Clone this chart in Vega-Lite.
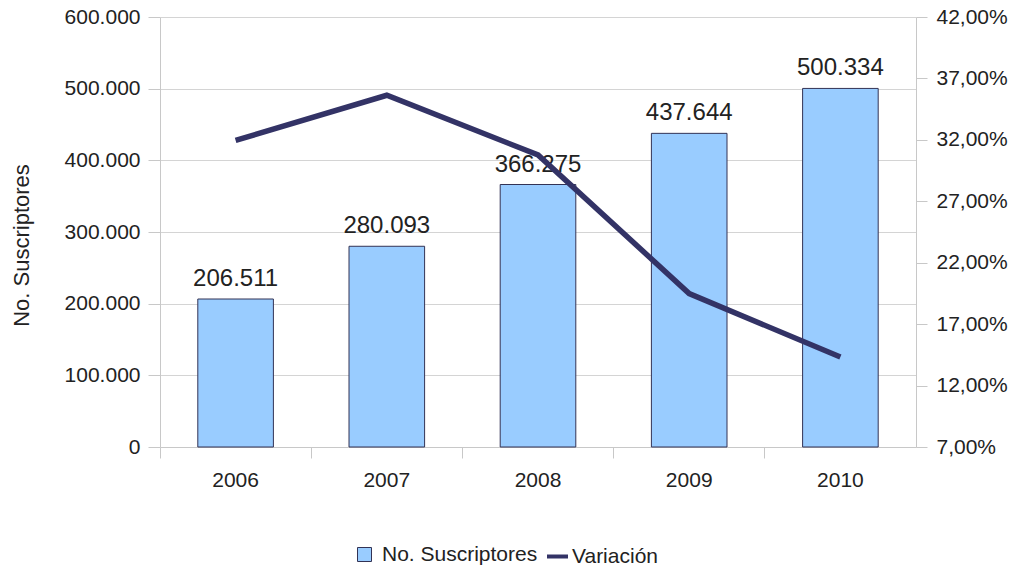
{
  "$schema": "https://vega.github.io/schema/vega-lite/v6.json",
  "autosize": "none",
  "width": 756,
  "height": 430,
  "padding": {"left": 160, "top": 17, "right": 96, "bottom": 125},
  "background": "white",
  "config": {
    "view": {"stroke": null},
    "font": "Liberation Sans",
    "locale": {"number": {"decimal": ",", "thousands": ".", "grouping": [3], "currency": ["", " €"]}},
    "axis": {"labelFont": "Liberation Sans", "titleFont": "Liberation Sans", "labelColor": "#222222", "titleColor": "#222222", "domainColor": "#c8c8c8", "tickColor": "#c8c8c8", "gridColor": "#d4d4d4", "labelOverlap": false},
    "legend": {"labelFont": "Liberation Sans", "labelColor": "#222222"}
  },
  "data": {
    "values": [
      {"year": "2006", "subs": 206511, "var": 0.3195},
      {"year": "2007", "subs": 280093, "var": 0.3563},
      {"year": "2008", "subs": 366275, "var": 0.3077},
      {"year": "2009", "subs": 437644, "var": 0.1949},
      {"year": "2010", "subs": 500334, "var": 0.1432}
    ]
  },
  "encoding": {
    "x": {
      "field": "year", "type": "ordinal",
      "scale": {"paddingInner": 0, "paddingOuter": 0},
      "axis": {"title": null, "labelAngle": 0, "labelFontSize": 21, "labelPadding": 11, "tickSize": 11, "bandPosition": 0, "domainColor": "#c8c8c8"}
    }
  },
  "layer": [
    {
      "encoding": {
        "y": {"field": "subs", "type": "quantitative", "scale": {"domain": [0, 600000]},
          "axis": {"title": "No. Suscriptores", "titleFontSize": 22, "titleFontWeight": "normal", "titlePadding": 31, "titleY": 228, "labelFontSize": 21, "format": ",d", "values": [0,100000,200000,300000,400000,500000,600000], "tickSize": 12, "labelPadding": 8, "grid": true}}
      },
      "layer": [
        {
          "mark": {"type": "bar", "width": {"band": 0.5}, "stroke": "#333355", "strokeWidth": 1},
          "encoding": {
            "fill": {"datum": "No. Suscriptores", "type": "nominal", "scale": {"range": ["#99ccff"]},
              "legend": {"title": null, "orient": "none", "legendX": 194, "legendY": 527, "labelFontSize": 21, "symbolType": "square", "symbolSize": 196, "symbolStrokeColor": "#333355", "symbolStrokeWidth": 1, "labelOffset": 7}}
          }
        },
        {
          "mark": {"type": "text", "dy": -13, "baseline": "alphabetic", "fontSize": 24, "color": "#222222"},
          "encoding": {
            "text": {"field": "subs", "type": "quantitative", "format": ",d"}
          }
        }
      ]
    },
    {
      "mark": {"type": "line", "strokeWidth": 5.5},
      "encoding": {
        "y": {"field": "var", "type": "quantitative", "scale": {"domain": [0.07, 0.42]},
          "axis": {"orient": "right", "title": null, "format": ".2%", "values": [0.07,0.12,0.17,0.22,0.27,0.32,0.37,0.42], "labelFontSize": 21, "tickSize": 11, "labelPadding": 9, "grid": false}},
        "stroke": {"datum": "Variación", "type": "nominal", "scale": {"range": ["#333366"]},
          "legend": {"title": null, "orient": "none", "legendX": 385, "legendY": 527, "labelFontSize": 21, "symbolType": "stroke", "symbolStrokeWidth": 4, "symbolSize": 441, "labelOffset": 2}}
      }
    }
  ],
  "resolve": {"scale": {"y": "independent", "fill": "independent", "stroke": "independent"}}
}
